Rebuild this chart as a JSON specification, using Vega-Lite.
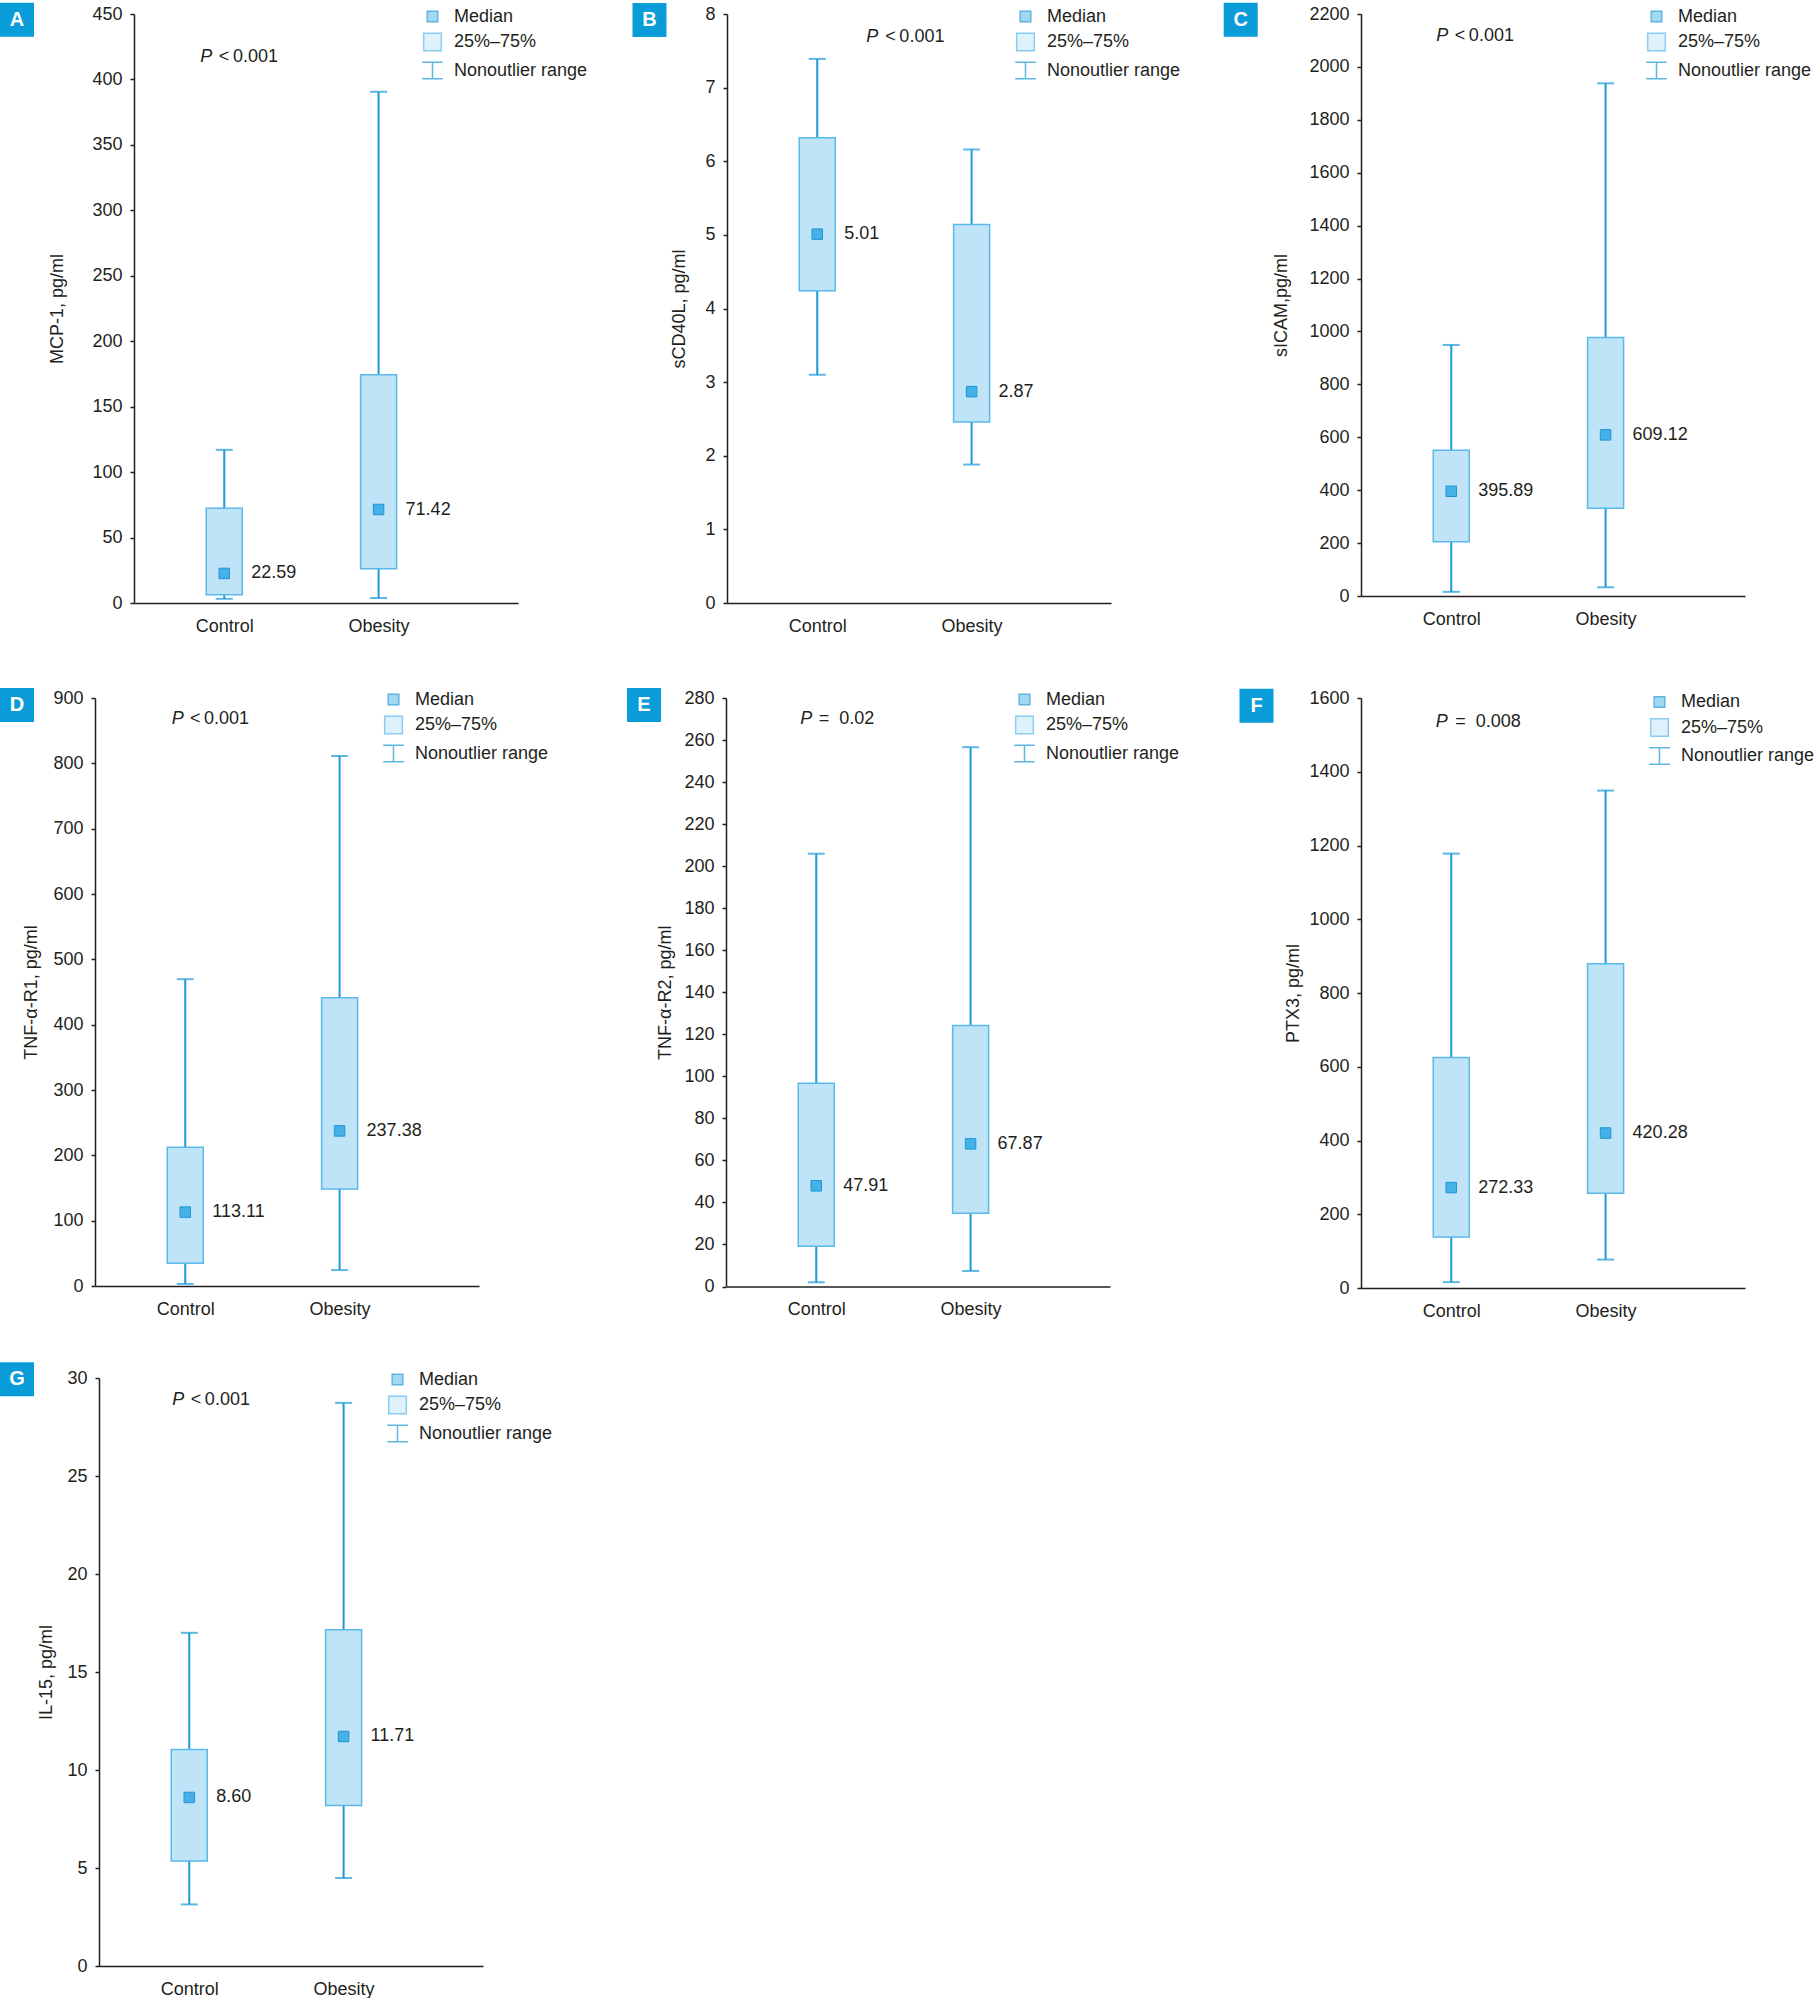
{
  "$schema": "https://vega.github.io/schema/vega-lite/v6.json",
  "padding": {"left": 0, "top": 2, "right": 0, "bottom": 0},
  "background": "white",
  "config": {
    "font": "Liberation Sans, Arial, sans-serif",
    "view": {"stroke": null},
    "axis": {"labelFontSize": 18, "labelColor": "#231f20", "domainColor": "#231f20", "domainWidth": 1.5, "tickColor": "#231f20", "tickWidth": 1.5, "grid": false, "titleFontSize": 18, "titleFontWeight": "normal", "titleColor": "#231f20"},
    "axisY": {"tickSize": 4, "labelPadding": 8, "titleBaseline": "middle"},
    "axisX": {"ticks": false, "labelPadding": 14, "labelAngle": 0},
    "text": {"fontSize": 18, "color": "#231f20"},
    "legend": {"labelFontSize": 18, "labelColor": "#231f20", "labelOffset": 9, "rowPadding": 3.5, "symbolSize": 508, "symbolStrokeWidth": 1.5, "padding": 0, "labelLimit": 300}
  },
  "datasets": {
    "A": [
      {"group": "Control", "lo": 3.2, "q1": 6.3, "med": 22.59, "q3": 72.4, "hi": 117.0},
      {"group": "Obesity", "lo": 3.8, "q1": 26.2, "med": 71.42, "q3": 174.3, "hi": 390.6}
    ],
    "B": [
      {"group": "Control", "lo": 3.10, "q1": 4.24, "med": 5.01, "q3": 6.32, "hi": 7.39},
      {"group": "Obesity", "lo": 1.88, "q1": 2.46, "med": 2.87, "q3": 5.14, "hi": 6.16}
    ],
    "C": [
      {"group": "Control", "lo": 15.7, "q1": 205, "med": 395.89, "q3": 551, "hi": 949},
      {"group": "Obesity", "lo": 33, "q1": 332, "med": 609.12, "q3": 977, "hi": 1938}
    ],
    "D": [
      {"group": "Control", "lo": 3.2, "q1": 34.7, "med": 113.11, "q3": 212.3, "hi": 469.6},
      {"group": "Obesity", "lo": 24.4, "q1": 148.6, "med": 237.38, "q3": 441.3, "hi": 811.2}
    ],
    "E": [
      {"group": "Control", "lo": 2.0, "q1": 19.2, "med": 47.91, "q3": 96.7, "hi": 205.9},
      {"group": "Obesity", "lo": 7.4, "q1": 34.8, "med": 67.87, "q3": 124.2, "hi": 256.6}
    ],
    "F": [
      {"group": "Control", "lo": 16, "q1": 138, "med": 272.33, "q3": 625, "hi": 1178},
      {"group": "Obesity", "lo": 77, "q1": 257, "med": 420.28, "q3": 879, "hi": 1349}
    ],
    "G": [
      {"group": "Control", "lo": 3.14, "q1": 5.36, "med": 8.60, "q3": 11.05, "hi": 17.0},
      {"group": "Obesity", "lo": 4.49, "q1": 8.19, "med": 11.71, "q3": 17.15, "hi": 28.73}
    ],
    "legendItems": [
      {"item": "Median"},
      {"item": "25%–75%"},
      {"item": "Nonoutlier range"}
    ]
  },
  "spacing": 20,
  "resolve": {
    "scale": {"x": "independent", "y": "independent", "fill": "independent", "stroke": "independent", "shape": "independent"},
    "legend": {"fill": "independent", "stroke": "independent", "shape": "independent"}
  },
  "vconcat": [
    {
      "spacing": 0,
      "bounds": "flush",
      "resolve": {
        "scale": {"x": "independent", "y": "independent", "fill": "independent", "stroke": "independent", "shape": "independent"},
        "legend": {"fill": "independent", "stroke": "independent", "shape": "independent"}
      },
      "hconcat": [
        {"width": 40, "height": 10, "data": {"values": [{}]}, "mark": {"type": "point", "opacity": 0}},
        {
          "width": 384, "height": 589,
          "data": {"name": "A"},
          "encoding": {"x": {"field": "group", "type": "nominal", "scale": {"type": "point", "domain": ["Control", "Obesity"], "padding": 0.744, "align": 0.393}, "axis": {"title": null}}},
          "layer": [
            {"mark": {"type": "rule", "color": "#1b9ad7", "strokeWidth": 2}, "encoding": {"y": {"field": "lo", "type": "quantitative", "scale": {"domain": [0, 450], "nice": false}, "axis": {"title": "MCP-1, pg/ml", "values": [0, 50, 100, 150, 200, 250, 300, 350, 400, 450], "format": "d", "titleX": -76.5}}, "y2": {"field": "hi"}}},
            {"mark": {"type": "tick", "color": "#1b9ad7", "thickness": 2, "size": 17}, "encoding": {"y": {"field": "lo", "type": "quantitative"}}},
            {"mark": {"type": "tick", "color": "#1b9ad7", "thickness": 2, "size": 17}, "encoding": {"y": {"field": "hi", "type": "quantitative"}}},
            {"mark": {"type": "bar", "width": 36, "fill": "#bfe4f7", "stroke": "#5bb8ea", "strokeWidth": 1.5}, "encoding": {"y": {"field": "q1", "type": "quantitative"}, "y2": {"field": "q3"}}},
            {"mark": {"type": "point", "shape": "square", "size": 110, "filled": true, "fill": "#46b1e6", "stroke": "#1f95d2", "strokeWidth": 1, "opacity": 1}, "encoding": {"y": {"field": "med", "type": "quantitative"}}},
            {"mark": {"type": "text", "align": "left", "baseline": "middle", "dx": 27}, "encoding": {"y": {"field": "med", "type": "quantitative"}, "text": {"field": "med", "type": "quantitative", "format": ".2f"}}},
            {"data": {"values": [{}]}, "mark": {"type": "text", "align": "left", "baseline": "middle", "fontStyle": "italic", "dx": -24}, "encoding": {"x": {"datum": "Control"}, "y": {"datum": 417.4}, "text": {"value": "P"}}},
            {"data": {"values": [{}]}, "mark": {"type": "text", "align": "left", "baseline": "middle", "dx": -5.4}, "encoding": {"x": {"datum": "Control"}, "y": {"datum": 417.4}, "text": {"value": "<\u20090.001"}}},
            {"data": {"values": [{}]}, "mark": {"type": "point", "shape": "square", "size": 1156, "filled": true, "color": "#0a9bd9", "opacity": 1, "strokeWidth": 0}, "encoding": {"x": {"value": -117}, "y": {"value": 5.7}}},
            {"data": {"values": [{}]}, "mark": {"type": "text", "align": "center", "baseline": "middle", "color": "white", "fontWeight": "bold", "fontSize": 20}, "encoding": {"x": {"value": -117}, "y": {"value": 5.7}, "text": {"value": "A"}}},
            {"data": {"name": "legendItems"}, "transform": [{"filter": "datum.item == 'none'"}], "mark": {"type": "point", "filled": true},
             "encoding": {
               "shape": {"field": "item", "type": "nominal", "scale": {"domain": ["Median", "25%–75%", "Nonoutlier range"], "range": ["M-0.471,-0.471H0.471V0.471H-0.471Z", "M-0.782,-0.782H0.782V0.782H-0.782Z", "M-0.915,-0.742H0.915M0,-0.742V0.742M-0.915,0.742H0.915"]}, "legend": {"title": null, "orient": "none", "legendX": 286, "legendY": -10}},
               "fill": {"field": "item", "type": "nominal", "scale": {"domain": ["Median", "25%–75%", "Nonoutlier range"], "range": ["#46b1e6", "#bfe4f7", "transparent"]}, "legend": {"title": null, "orient": "none", "legendX": 286, "legendY": -10}},
               "stroke": {"field": "item", "type": "nominal", "scale": {"domain": ["Median", "25%–75%", "Nonoutlier range"], "range": ["#1f95d2", "#5bb8ea", "#1b9ad7"]}, "legend": {"title": null, "orient": "none", "legendX": 286, "legendY": -10}}
             }}
          ]
        },
        {"width": 209, "height": 653, "data": {"values": [{}]}, "mark": {"type": "point", "opacity": 0}},
        {
          "width": 384, "height": 589,
          "data": {"name": "B"},
          "encoding": {"x": {"field": "group", "type": "nominal", "scale": {"type": "point", "domain": ["Control", "Obesity"], "padding": 0.744, "align": 0.393}, "axis": {"title": null}}},
          "layer": [
            {"mark": {"type": "rule", "color": "#1b9ad7", "strokeWidth": 2}, "encoding": {"y": {"field": "lo", "type": "quantitative", "scale": {"domain": [0, 8], "nice": false}, "axis": {"title": "sCD40L, pg/ml", "values": [0, 1, 2, 3, 4, 5, 6, 7, 8], "format": "d", "titleX": -48}}, "y2": {"field": "hi"}}},
            {"mark": {"type": "tick", "color": "#1b9ad7", "thickness": 2, "size": 17}, "encoding": {"y": {"field": "lo", "type": "quantitative"}}},
            {"mark": {"type": "tick", "color": "#1b9ad7", "thickness": 2, "size": 17}, "encoding": {"y": {"field": "hi", "type": "quantitative"}}},
            {"mark": {"type": "bar", "width": 36, "fill": "#bfe4f7", "stroke": "#5bb8ea", "strokeWidth": 1.5}, "encoding": {"y": {"field": "q1", "type": "quantitative"}, "y2": {"field": "q3"}}},
            {"mark": {"type": "point", "shape": "square", "size": 110, "filled": true, "fill": "#46b1e6", "stroke": "#1f95d2", "strokeWidth": 1, "opacity": 1}, "encoding": {"y": {"field": "med", "type": "quantitative"}}},
            {"mark": {"type": "text", "align": "left", "baseline": "middle", "dx": 27}, "encoding": {"y": {"field": "med", "type": "quantitative"}, "text": {"field": "med", "type": "quantitative", "format": ".2f"}}},
            {"data": {"values": [{}]}, "mark": {"type": "text", "align": "left", "baseline": "middle", "fontStyle": "italic", "dx": 49}, "encoding": {"x": {"datum": "Control"}, "y": {"datum": 7.69}, "text": {"value": "P"}}},
            {"data": {"values": [{}]}, "mark": {"type": "text", "align": "left", "baseline": "middle", "dx": 68}, "encoding": {"x": {"datum": "Control"}, "y": {"datum": 7.69}, "text": {"value": "<\u20090.001"}}},
            {"data": {"values": [{}]}, "mark": {"type": "point", "shape": "square", "size": 1156, "filled": true, "color": "#0a9bd9", "opacity": 1, "strokeWidth": 0}, "encoding": {"x": {"value": -77.5}, "y": {"value": 6}}},
            {"data": {"values": [{}]}, "mark": {"type": "text", "align": "center", "baseline": "middle", "color": "white", "fontWeight": "bold", "fontSize": 20}, "encoding": {"x": {"value": -77.5}, "y": {"value": 6}, "text": {"value": "B"}}},
            {"data": {"name": "legendItems"}, "transform": [{"filter": "datum.item == 'none'"}], "mark": {"type": "point", "filled": true},
             "encoding": {
               "shape": {"field": "item", "type": "nominal", "scale": {"domain": ["Median", "25%–75%", "Nonoutlier range"], "range": ["M-0.471,-0.471H0.471V0.471H-0.471Z", "M-0.782,-0.782H0.782V0.782H-0.782Z", "M-0.915,-0.742H0.915M0,-0.742V0.742M-0.915,0.742H0.915"]}, "legend": {"title": null, "orient": "none", "legendX": 286, "legendY": -10}},
               "fill": {"field": "item", "type": "nominal", "scale": {"domain": ["Median", "25%–75%", "Nonoutlier range"], "range": ["#46b1e6", "#bfe4f7", "transparent"]}, "legend": {"title": null, "orient": "none", "legendX": 286, "legendY": -10}},
               "stroke": {"field": "item", "type": "nominal", "scale": {"domain": ["Median", "25%–75%", "Nonoutlier range"], "range": ["#1f95d2", "#5bb8ea", "#1b9ad7"]}, "legend": {"title": null, "orient": "none", "legendX": 286, "legendY": -10}}
             }}
          ]
        },
        {"width": 250, "height": 10, "data": {"values": [{}]}, "mark": {"type": "point", "opacity": 0}},
        {
          "width": 384, "height": 582,
          "data": {"name": "C"},
          "encoding": {"x": {"field": "group", "type": "nominal", "scale": {"type": "point", "domain": ["Control", "Obesity"], "padding": 0.744, "align": 0.393}, "axis": {"title": null}}},
          "layer": [
            {"mark": {"type": "rule", "color": "#1b9ad7", "strokeWidth": 2}, "encoding": {"y": {"field": "lo", "type": "quantitative", "scale": {"domain": [0, 2200], "nice": false}, "axis": {"title": "sICAM,pg/ml", "values": [0, 200, 400, 600, 800, 1000, 1200, 1400, 1600, 1800, 2000, 2200], "format": "d", "titleX": -79.2}}, "y2": {"field": "hi"}}},
            {"mark": {"type": "tick", "color": "#1b9ad7", "thickness": 2, "size": 17}, "encoding": {"y": {"field": "lo", "type": "quantitative"}}},
            {"mark": {"type": "tick", "color": "#1b9ad7", "thickness": 2, "size": 17}, "encoding": {"y": {"field": "hi", "type": "quantitative"}}},
            {"mark": {"type": "bar", "width": 36, "fill": "#bfe4f7", "stroke": "#5bb8ea", "strokeWidth": 1.5}, "encoding": {"y": {"field": "q1", "type": "quantitative"}, "y2": {"field": "q3"}}},
            {"mark": {"type": "point", "shape": "square", "size": 110, "filled": true, "fill": "#46b1e6", "stroke": "#1f95d2", "strokeWidth": 1, "opacity": 1}, "encoding": {"y": {"field": "med", "type": "quantitative"}}},
            {"mark": {"type": "text", "align": "left", "baseline": "middle", "dx": 27}, "encoding": {"y": {"field": "med", "type": "quantitative"}, "text": {"field": "med", "type": "quantitative", "format": ".2f"}}},
            {"data": {"values": [{}]}, "mark": {"type": "text", "align": "left", "baseline": "middle", "fontStyle": "italic", "dx": -15}, "encoding": {"x": {"datum": "Control"}, "y": {"datum": 2117}, "text": {"value": "P"}}},
            {"data": {"values": [{}]}, "mark": {"type": "text", "align": "left", "baseline": "middle", "dx": 3.5}, "encoding": {"x": {"datum": "Control"}, "y": {"datum": 2117}, "text": {"value": "<\u20090.001"}}},
            {"data": {"values": [{}]}, "mark": {"type": "point", "shape": "square", "size": 1156, "filled": true, "color": "#0a9bd9", "opacity": 1, "strokeWidth": 0}, "encoding": {"x": {"value": -120.3}, "y": {"value": 5.7}}},
            {"data": {"values": [{}]}, "mark": {"type": "text", "align": "center", "baseline": "middle", "color": "white", "fontWeight": "bold", "fontSize": 20}, "encoding": {"x": {"value": -120.3}, "y": {"value": 5.7}, "text": {"value": "C"}}},
            {"data": {"name": "legendItems"}, "transform": [{"filter": "datum.item == 'none'"}], "mark": {"type": "point", "filled": true},
             "encoding": {
               "shape": {"field": "item", "type": "nominal", "scale": {"domain": ["Median", "25%–75%", "Nonoutlier range"], "range": ["M-0.471,-0.471H0.471V0.471H-0.471Z", "M-0.782,-0.782H0.782V0.782H-0.782Z", "M-0.915,-0.742H0.915M0,-0.742V0.742M-0.915,0.742H0.915"]}, "legend": {"title": null, "orient": "none", "legendX": 283, "legendY": -10}},
               "fill": {"field": "item", "type": "nominal", "scale": {"domain": ["Median", "25%–75%", "Nonoutlier range"], "range": ["#46b1e6", "#bfe4f7", "transparent"]}, "legend": {"title": null, "orient": "none", "legendX": 283, "legendY": -10}},
               "stroke": {"field": "item", "type": "nominal", "scale": {"domain": ["Median", "25%–75%", "Nonoutlier range"], "range": ["#1f95d2", "#5bb8ea", "#1b9ad7"]}, "legend": {"title": null, "orient": "none", "legendX": 283, "legendY": -10}}
             }}
          ]
        }
      ]
    },
    {
      "spacing": 0,
      "bounds": "flush",
      "resolve": {
        "scale": {"x": "independent", "y": "independent", "fill": "independent", "stroke": "independent", "shape": "independent"},
        "legend": {"fill": "independent", "stroke": "independent", "shape": "independent"}
      },
      "hconcat": [
        {"width": 1, "height": 10, "data": {"values": [{}]}, "mark": {"type": "point", "opacity": 0}},
        {
          "width": 384, "height": 588,
          "data": {"name": "D"},
          "encoding": {"x": {"field": "group", "type": "nominal", "scale": {"type": "point", "domain": ["Control", "Obesity"], "padding": 0.744, "align": 0.393}, "axis": {"title": null}}},
          "layer": [
            {"mark": {"type": "rule", "color": "#1b9ad7", "strokeWidth": 2}, "encoding": {"y": {"field": "lo", "type": "quantitative", "scale": {"domain": [0, 900], "nice": false}, "axis": {"title": "TNF-α-R1, pg/ml", "values": [0, 100, 200, 300, 400, 500, 600, 700, 800, 900], "format": "d", "titleX": -64}}, "y2": {"field": "hi"}}},
            {"mark": {"type": "tick", "color": "#1b9ad7", "thickness": 2, "size": 17}, "encoding": {"y": {"field": "lo", "type": "quantitative"}}},
            {"mark": {"type": "tick", "color": "#1b9ad7", "thickness": 2, "size": 17}, "encoding": {"y": {"field": "hi", "type": "quantitative"}}},
            {"mark": {"type": "bar", "width": 36, "fill": "#bfe4f7", "stroke": "#5bb8ea", "strokeWidth": 1.5}, "encoding": {"y": {"field": "q1", "type": "quantitative"}, "y2": {"field": "q3"}}},
            {"mark": {"type": "point", "shape": "square", "size": 110, "filled": true, "fill": "#46b1e6", "stroke": "#1f95d2", "strokeWidth": 1, "opacity": 1}, "encoding": {"y": {"field": "med", "type": "quantitative"}}},
            {"mark": {"type": "text", "align": "left", "baseline": "middle", "dx": 27}, "encoding": {"y": {"field": "med", "type": "quantitative"}, "text": {"field": "med", "type": "quantitative", "format": ".2f"}}},
            {"data": {"values": [{}]}, "mark": {"type": "text", "align": "left", "baseline": "middle", "fontStyle": "italic", "dx": -13.5}, "encoding": {"x": {"datum": "Control"}, "y": {"datum": 867.1}, "text": {"value": "P"}}},
            {"data": {"values": [{}]}, "mark": {"type": "text", "align": "left", "baseline": "middle", "dx": 4.7}, "encoding": {"x": {"datum": "Control"}, "y": {"datum": 867.1}, "text": {"value": "<\u20090.001"}}},
            {"data": {"values": [{}]}, "mark": {"type": "point", "shape": "square", "size": 1156, "filled": true, "color": "#0a9bd9", "opacity": 1, "strokeWidth": 0}, "encoding": {"x": {"value": -78}, "y": {"value": 6.9}}},
            {"data": {"values": [{}]}, "mark": {"type": "text", "align": "center", "baseline": "middle", "color": "white", "fontWeight": "bold", "fontSize": 20}, "encoding": {"x": {"value": -78}, "y": {"value": 6.9}, "text": {"value": "D"}}},
            {"data": {"name": "legendItems"}, "transform": [{"filter": "datum.item == 'none'"}], "mark": {"type": "point", "filled": true},
             "encoding": {
               "shape": {"field": "item", "type": "nominal", "scale": {"domain": ["Median", "25%–75%", "Nonoutlier range"], "range": ["M-0.471,-0.471H0.471V0.471H-0.471Z", "M-0.782,-0.782H0.782V0.782H-0.782Z", "M-0.915,-0.742H0.915M0,-0.742V0.742M-0.915,0.742H0.915"]}, "legend": {"title": null, "orient": "none", "legendX": 286, "legendY": -11}},
               "fill": {"field": "item", "type": "nominal", "scale": {"domain": ["Median", "25%–75%", "Nonoutlier range"], "range": ["#46b1e6", "#bfe4f7", "transparent"]}, "legend": {"title": null, "orient": "none", "legendX": 286, "legendY": -11}},
               "stroke": {"field": "item", "type": "nominal", "scale": {"domain": ["Median", "25%–75%", "Nonoutlier range"], "range": ["#1f95d2", "#5bb8ea", "#1b9ad7"]}, "legend": {"title": null, "orient": "none", "legendX": 286, "legendY": -11}}
             }}
          ]
        },
        {"width": 247, "height": 644, "data": {"values": [{}]}, "mark": {"type": "point", "opacity": 0}},
        {
          "width": 384, "height": 588.5,
          "data": {"name": "E"},
          "encoding": {"x": {"field": "group", "type": "nominal", "scale": {"type": "point", "domain": ["Control", "Obesity"], "padding": 0.744, "align": 0.393}, "axis": {"title": null}}},
          "layer": [
            {"mark": {"type": "rule", "color": "#1b9ad7", "strokeWidth": 2}, "encoding": {"y": {"field": "lo", "type": "quantitative", "scale": {"domain": [0, 280], "nice": false}, "axis": {"title": "TNF-α-R2, pg/ml", "values": [0, 20, 40, 60, 80, 100, 120, 140, 160, 180, 200, 220, 240, 260, 280], "format": "d", "titleX": -60.8}}, "y2": {"field": "hi"}}},
            {"mark": {"type": "tick", "color": "#1b9ad7", "thickness": 2, "size": 17}, "encoding": {"y": {"field": "lo", "type": "quantitative"}}},
            {"mark": {"type": "tick", "color": "#1b9ad7", "thickness": 2, "size": 17}, "encoding": {"y": {"field": "hi", "type": "quantitative"}}},
            {"mark": {"type": "bar", "width": 36, "fill": "#bfe4f7", "stroke": "#5bb8ea", "strokeWidth": 1.5}, "encoding": {"y": {"field": "q1", "type": "quantitative"}, "y2": {"field": "q3"}}},
            {"mark": {"type": "point", "shape": "square", "size": 110, "filled": true, "fill": "#46b1e6", "stroke": "#1f95d2", "strokeWidth": 1, "opacity": 1}, "encoding": {"y": {"field": "med", "type": "quantitative"}}},
            {"mark": {"type": "text", "align": "left", "baseline": "middle", "dx": 27}, "encoding": {"y": {"field": "med", "type": "quantitative"}, "text": {"field": "med", "type": "quantitative", "format": ".2f"}}},
            {"data": {"values": [{}]}, "mark": {"type": "text", "align": "left", "baseline": "middle", "fontStyle": "italic", "dx": -16}, "encoding": {"x": {"datum": "Control"}, "y": {"datum": 269.8}, "text": {"value": "P"}}},
            {"data": {"values": [{}]}, "mark": {"type": "text", "align": "left", "baseline": "middle", "dx": 2.4}, "encoding": {"x": {"datum": "Control"}, "y": {"datum": 269.8}, "text": {"value": "=\u00a0\u00a00.02"}}},
            {"data": {"values": [{}]}, "mark": {"type": "point", "shape": "square", "size": 1156, "filled": true, "color": "#0a9bd9", "opacity": 1, "strokeWidth": 0}, "encoding": {"x": {"value": -82}, "y": {"value": 6.9}}},
            {"data": {"values": [{}]}, "mark": {"type": "text", "align": "center", "baseline": "middle", "color": "white", "fontWeight": "bold", "fontSize": 20}, "encoding": {"x": {"value": -82}, "y": {"value": 6.9}, "text": {"value": "E"}}},
            {"data": {"name": "legendItems"}, "transform": [{"filter": "datum.item == 'none'"}], "mark": {"type": "point", "filled": true},
             "encoding": {
               "shape": {"field": "item", "type": "nominal", "scale": {"domain": ["Median", "25%–75%", "Nonoutlier range"], "range": ["M-0.471,-0.471H0.471V0.471H-0.471Z", "M-0.782,-0.782H0.782V0.782H-0.782Z", "M-0.915,-0.742H0.915M0,-0.742V0.742M-0.915,0.742H0.915"]}, "legend": {"title": null, "orient": "none", "legendX": 286, "legendY": -11}},
               "fill": {"field": "item", "type": "nominal", "scale": {"domain": ["Median", "25%–75%", "Nonoutlier range"], "range": ["#46b1e6", "#bfe4f7", "transparent"]}, "legend": {"title": null, "orient": "none", "legendX": 286, "legendY": -11}},
               "stroke": {"field": "item", "type": "nominal", "scale": {"domain": ["Median", "25%–75%", "Nonoutlier range"], "range": ["#1f95d2", "#5bb8ea", "#1b9ad7"]}, "legend": {"title": null, "orient": "none", "legendX": 286, "legendY": -11}}
             }}
          ]
        },
        {"width": 251, "height": 10, "data": {"values": [{}]}, "mark": {"type": "point", "opacity": 0}},
        {
          "width": 384, "height": 590,
          "data": {"name": "F"},
          "encoding": {"x": {"field": "group", "type": "nominal", "scale": {"type": "point", "domain": ["Control", "Obesity"], "padding": 0.744, "align": 0.393}, "axis": {"title": null}}},
          "layer": [
            {"mark": {"type": "rule", "color": "#1b9ad7", "strokeWidth": 2}, "encoding": {"y": {"field": "lo", "type": "quantitative", "scale": {"domain": [0, 1600], "nice": false}, "axis": {"title": "PTX3, pg/ml", "values": [0, 200, 400, 600, 800, 1000, 1200, 1400, 1600], "format": "d", "titleX": -67.6}}, "y2": {"field": "hi"}}},
            {"mark": {"type": "tick", "color": "#1b9ad7", "thickness": 2, "size": 17}, "encoding": {"y": {"field": "lo", "type": "quantitative"}}},
            {"mark": {"type": "tick", "color": "#1b9ad7", "thickness": 2, "size": 17}, "encoding": {"y": {"field": "hi", "type": "quantitative"}}},
            {"mark": {"type": "bar", "width": 36, "fill": "#bfe4f7", "stroke": "#5bb8ea", "strokeWidth": 1.5}, "encoding": {"y": {"field": "q1", "type": "quantitative"}, "y2": {"field": "q3"}}},
            {"mark": {"type": "point", "shape": "square", "size": 110, "filled": true, "fill": "#46b1e6", "stroke": "#1f95d2", "strokeWidth": 1, "opacity": 1}, "encoding": {"y": {"field": "med", "type": "quantitative"}}},
            {"mark": {"type": "text", "align": "left", "baseline": "middle", "dx": 27}, "encoding": {"y": {"field": "med", "type": "quantitative"}, "text": {"field": "med", "type": "quantitative", "format": ".2f"}}},
            {"data": {"values": [{}]}, "mark": {"type": "text", "align": "left", "baseline": "middle", "fontStyle": "italic", "dx": -15.4}, "encoding": {"x": {"datum": "Control"}, "y": {"datum": 1533.6}, "text": {"value": "P"}}},
            {"data": {"values": [{}]}, "mark": {"type": "text", "align": "left", "baseline": "middle", "dx": 4}, "encoding": {"x": {"datum": "Control"}, "y": {"datum": 1533.6}, "text": {"value": "=\u00a0\u00a00.008"}}},
            {"data": {"values": [{}]}, "mark": {"type": "point", "shape": "square", "size": 1156, "filled": true, "color": "#0a9bd9", "opacity": 1, "strokeWidth": 0}, "encoding": {"x": {"value": -104.5}, "y": {"value": 7.7}}},
            {"data": {"values": [{}]}, "mark": {"type": "text", "align": "center", "baseline": "middle", "color": "white", "fontWeight": "bold", "fontSize": 20}, "encoding": {"x": {"value": -104.5}, "y": {"value": 7.7}, "text": {"value": "F"}}},
            {"data": {"name": "legendItems"}, "transform": [{"filter": "datum.item == 'none'"}], "mark": {"type": "point", "filled": true},
             "encoding": {
               "shape": {"field": "item", "type": "nominal", "scale": {"domain": ["Median", "25%–75%", "Nonoutlier range"], "range": ["M-0.471,-0.471H0.471V0.471H-0.471Z", "M-0.782,-0.782H0.782V0.782H-0.782Z", "M-0.915,-0.742H0.915M0,-0.742V0.742M-0.915,0.742H0.915"]}, "legend": {"title": null, "orient": "none", "legendX": 286, "legendY": -8.5}},
               "fill": {"field": "item", "type": "nominal", "scale": {"domain": ["Median", "25%–75%", "Nonoutlier range"], "range": ["#46b1e6", "#bfe4f7", "transparent"]}, "legend": {"title": null, "orient": "none", "legendX": 286, "legendY": -8.5}},
               "stroke": {"field": "item", "type": "nominal", "scale": {"domain": ["Median", "25%–75%", "Nonoutlier range"], "range": ["#1f95d2", "#5bb8ea", "#1b9ad7"]}, "legend": {"title": null, "orient": "none", "legendX": 286, "legendY": -8.5}}
             }}
          ]
        }
      ]
    },
    {
      "spacing": 0,
      "bounds": "flush",
      "resolve": {
        "scale": {"x": "independent", "y": "independent", "fill": "independent", "stroke": "independent", "shape": "independent"},
        "legend": {"fill": "independent", "stroke": "independent", "shape": "independent"}
      },
      "hconcat": [
        {"width": 5, "height": 10, "data": {"values": [{}]}, "mark": {"type": "point", "opacity": 0}},
        {
          "width": 384, "height": 588,
          "data": {"name": "G"},
          "encoding": {"x": {"field": "group", "type": "nominal", "scale": {"type": "point", "domain": ["Control", "Obesity"], "padding": 0.744, "align": 0.393}, "axis": {"title": null}}},
          "layer": [
            {"mark": {"type": "rule", "color": "#1b9ad7", "strokeWidth": 2}, "encoding": {"y": {"field": "lo", "type": "quantitative", "scale": {"domain": [0, 30], "nice": false}, "axis": {"title": "IL-15, pg/ml", "values": [0, 5, 10, 15, 20, 25, 30], "format": "d", "titleX": -53}}, "y2": {"field": "hi"}}},
            {"mark": {"type": "tick", "color": "#1b9ad7", "thickness": 2, "size": 17}, "encoding": {"y": {"field": "lo", "type": "quantitative"}}},
            {"mark": {"type": "tick", "color": "#1b9ad7", "thickness": 2, "size": 17}, "encoding": {"y": {"field": "hi", "type": "quantitative"}}},
            {"mark": {"type": "bar", "width": 36, "fill": "#bfe4f7", "stroke": "#5bb8ea", "strokeWidth": 1.5}, "encoding": {"y": {"field": "q1", "type": "quantitative"}, "y2": {"field": "q3"}}},
            {"mark": {"type": "point", "shape": "square", "size": 110, "filled": true, "fill": "#46b1e6", "stroke": "#1f95d2", "strokeWidth": 1, "opacity": 1}, "encoding": {"y": {"field": "med", "type": "quantitative"}}},
            {"mark": {"type": "text", "align": "left", "baseline": "middle", "dx": 27}, "encoding": {"y": {"field": "med", "type": "quantitative"}, "text": {"field": "med", "type": "quantitative", "format": ".2f"}}},
            {"data": {"values": [{}]}, "mark": {"type": "text", "align": "left", "baseline": "middle", "fontStyle": "italic", "dx": -17}, "encoding": {"x": {"datum": "Control"}, "y": {"datum": 28.9}, "text": {"value": "P"}}},
            {"data": {"values": [{}]}, "mark": {"type": "text", "align": "left", "baseline": "middle", "dx": 1.5}, "encoding": {"x": {"datum": "Control"}, "y": {"datum": 28.9}, "text": {"value": "<\u20090.001"}}},
            {"data": {"values": [{}]}, "mark": {"type": "point", "shape": "square", "size": 1156, "filled": true, "color": "#0a9bd9", "opacity": 1, "strokeWidth": 0}, "encoding": {"x": {"value": -82}, "y": {"value": 1.2}}},
            {"data": {"values": [{}]}, "mark": {"type": "text", "align": "center", "baseline": "middle", "color": "white", "fontWeight": "bold", "fontSize": 20}, "encoding": {"x": {"value": -82}, "y": {"value": 1.2}, "text": {"value": "G"}}},
            {"data": {"name": "legendItems"}, "transform": [{"filter": "datum.item == 'none'"}], "mark": {"type": "point", "filled": true},
             "encoding": {
               "shape": {"field": "item", "type": "nominal", "scale": {"domain": ["Median", "25%–75%", "Nonoutlier range"], "range": ["M-0.471,-0.471H0.471V0.471H-0.471Z", "M-0.782,-0.782H0.782V0.782H-0.782Z", "M-0.915,-0.742H0.915M0,-0.742V0.742M-0.915,0.742H0.915"]}, "legend": {"title": null, "orient": "none", "legendX": 286, "legendY": -11}},
               "fill": {"field": "item", "type": "nominal", "scale": {"domain": ["Median", "25%–75%", "Nonoutlier range"], "range": ["#46b1e6", "#bfe4f7", "transparent"]}, "legend": {"title": null, "orient": "none", "legendX": 286, "legendY": -11}},
               "stroke": {"field": "item", "type": "nominal", "scale": {"domain": ["Median", "25%–75%", "Nonoutlier range"], "range": ["#1f95d2", "#5bb8ea", "#1b9ad7"]}, "legend": {"title": null, "orient": "none", "legendX": 286, "legendY": -11}}
             }}
          ]
        }
      ]
    }
  ]
}
